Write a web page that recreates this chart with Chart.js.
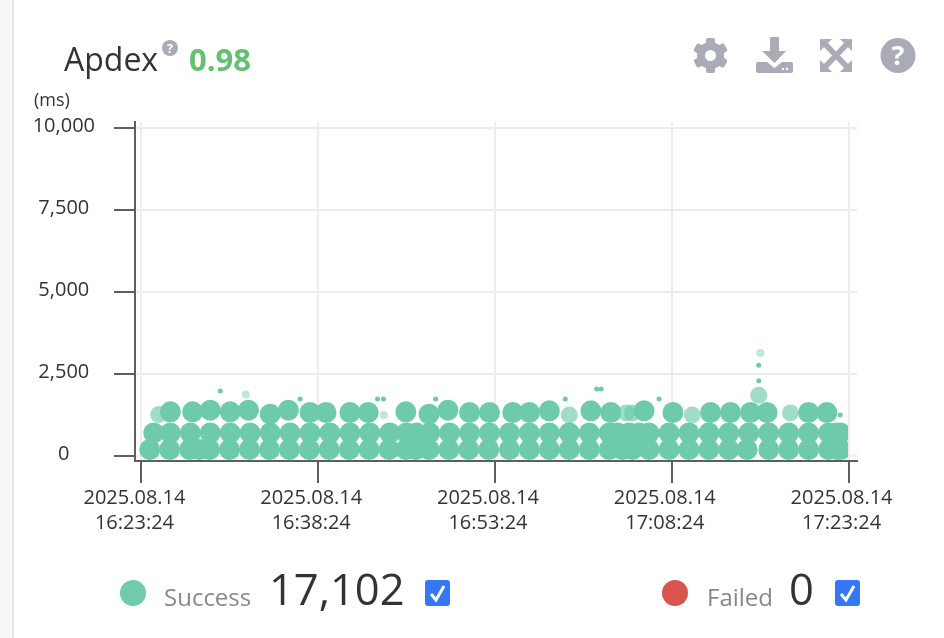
<!DOCTYPE html>
<html>
<head>
<meta charset="utf-8">
<title>Apdex</title>
<script src="https://cdn.jsdelivr.net/npm/chart.js@4/dist/chart.umd.min.js"></script>
<style>
    html, body { margin: 0; padding: 0; background: #fff; }
    body { width: 944px; height: 638px; overflow: hidden; position: relative; font-family: "Open Sans", sans-serif; color: #333; }
    .side { position: absolute; left: 0; top: 0; width: 12px; height: 638px; background: #f7f7f7; border-right: 2px solid #e6e6e6; }
    canvas { position: absolute; left: 0; top: 0; }
    .txt { position: absolute; white-space: nowrap; line-height: 1; }
    svg { position: absolute; overflow: visible; }
    .dot { position: absolute; width: 26px; height: 26px; border-radius: 50%; }
</style>
</head>
<body>
<div class="side"></div>
<canvas id="apdexChart" width="944" height="638"></canvas>

<div class="txt" style="left:64px;top:43px;font-size:32px;">Apdex</div>
<svg style="left:162px;top:40px" width="16" height="16" viewBox="0 0 16 16">
    <circle cx="8" cy="8" r="8" fill="#a9acb6"/>
    <text x="8" y="12.5" text-anchor="middle" font-size="12.5" font-weight="700" font-family="Open Sans" fill="#fff">?</text>
</svg>
<div class="txt" style="left:189px;top:44px;font-size:31px;font-weight:700;color:#63c06f;">0.98</div>
<div class="txt" style="left:34px;top:90px;font-size:18px;">(ms)</div>

<!-- иконки -->
<svg style="left:693px;top:38px" width="35" height="35" viewBox="0 0 35 35">
    <g fill="#a9acb6">
        <rect x="13" y="0" width="9" height="35" rx="2"/>
        <rect x="13" y="0" width="9" height="35" rx="2" transform="rotate(60 17.5 17.5)"/>
        <rect x="13" y="0" width="9" height="35" rx="2" transform="rotate(120 17.5 17.5)"/>
        <circle cx="17.5" cy="17.5" r="13.5"/>
    </g>
    <circle cx="17.5" cy="17.5" r="5.5" fill="#fff"/>
</svg>
<svg style="left:756px;top:37px" width="37" height="36" viewBox="0 0 37 36">
    <path fill="#a9acb6" d="M14 1 a1 1 0 0 1 1-1 h7 a1 1 0 0 1 1 1 V14 h7 L18.5 26 L6 14 h8 Z"/>
    <path fill="#a9acb6" d="M2 25 H11 L18.5 31 L26 25 H35 a2 2 0 0 1 2 2 V34 a2 2 0 0 1 -2 2 H2 a2 2 0 0 1 -2 -2 V27 a2 2 0 0 1 2 -2 Z"/>
    <circle cx="27" cy="32" r="1.2" fill="#fff"/>
    <circle cx="31" cy="32" r="1.2" fill="#fff"/>
</svg>
<svg style="left:820px;top:39px" width="32" height="33" viewBox="0 0 32 33">
    <g fill="#a9acb6">
        <path d="M1 0 H12 L0 12 V1 a1 1 0 0 1 1 -1 Z"/>
        <path d="M31 0 H20 L32 12 V1 a1 1 0 0 0 -1 -1 Z"/>
        <path d="M1 33 H12 L0 21 V32 a1 1 0 0 0 1 1 Z"/>
        <path d="M31 33 H20 L32 21 V32 a1 1 0 0 1 -1 1 Z"/>
    </g>
    <path d="M5 5 L27 28 M27 5 L5 28" stroke="#a9acb6" stroke-width="5.5" fill="none"/>
</svg>
<svg style="left:880px;top:38px" width="36" height="35" viewBox="0 0 36 35">
    <circle cx="18" cy="17.5" r="17.5" fill="#a9acb6"/>
    <text x="18" y="27" text-anchor="middle" font-size="27" font-weight="700" font-family="Open Sans" fill="#fff">?</text>
</svg>

<!-- легенда -->
<div class="dot" style="left:120px;top:580px;background:#6fcbaa;"></div>
<div class="txt" style="left:164px;top:585px;font-size:24px;color:#888;">Success</div>
<div class="txt" style="left:269px;top:567px;font-size:43.5px;">17,102</div>
<svg style="left:425px;top:580px" width="25" height="26" viewBox="0 0 25 26">
    <rect width="25" height="26" rx="3" fill="#3478f6"/>
    <path d="M6 14 L11 20 L19 6" fill="none" stroke="#fff" stroke-width="3"/>
</svg>
<div class="dot" style="left:662px;top:580px;background:#d9534f;"></div>
<div class="txt" style="left:707px;top:585px;font-size:24px;color:#888;">Failed</div>
<div class="txt" style="left:789px;top:567px;font-size:43.5px;">0</div>
<svg style="left:835px;top:580px" width="25" height="26" viewBox="0 0 25 26">
    <rect width="25" height="26" rx="3" fill="#3478f6"/>
    <path d="M6 14 L11 20 L19 6" fill="none" stroke="#fff" stroke-width="3"/>
</svg>

<script>
// Данные: x в минутах от 16:23:24, y в мс
const xTickValues = [0, 15, 30, 45, 60];
const xTickLabels = [
    ['2025.08.14', '16:23:24'],
    ['2025.08.14', '16:38:24'],
    ['2025.08.14', '16:53:24'],
    ['2025.08.14', '17:08:24'],
    ['2025.08.14', '17:23:24']
];
const yTickValues = [0, 2500, 5000, 7500, 10000];

const lowRowX = [0.70, 2.39, 4.09, 4.93, 5.78, 7.47, 9.16, 10.86, 12.55, 14.24, 15.93, 17.63, 19.32, 21.01, 22.43, 23.27, 24.40, 26.09, 27.78, 29.47, 31.23, 32.92, 34.61, 36.30, 38.00, 39.69, 40.81, 41.66, 43.07, 44.77, 46.46, 48.15, 49.84, 51.39, 53.23, 54.92, 56.61, 58.31, 59.01, 59.32];
const midRowX = [1.04, 2.45, 4.15, 5.84, 7.53, 9.22, 10.92, 12.61, 14.30, 15.99, 17.69, 19.38, 21.07, 22.48, 23.33, 24.46, 26.15, 27.84, 29.53, 31.23, 32.92, 34.61, 36.30, 38.00, 39.69, 40.39, 41.38, 42.23, 43.07, 44.77, 46.46, 48.15, 49.84, 51.54, 53.23, 54.92, 56.61, 58.31, 59.01, 59.32];
const topRowX = [2.45, 4.34, 5.84, 7.53, 9.08, 10.92, 12.47, 14.30, 15.66, 17.69, 19.24, 22.43, 24.40, 26.01, 27.84, 29.53, 31.51, 32.92, 34.61, 38.14, 39.83, 42.65, 45.10, 48.29, 49.98, 51.68, 53.09, 56.61, 58.16];
const topRowY = [1337, 1337, 1387, 1337, 1387, 1265, 1387, 1316, 1316, 1316, 1316, 1337, 1265, 1387, 1316, 1316, 1316, 1316, 1367, 1367, 1316, 1367, 1316, 1316, 1316, 1316, 1316, 1316, 1316];
const lowRowLevel = 189;
const midRowLevel = 695;

const fadedX = [1.46, 36.30, 41.15, 41.66, 46.74, 55.07, 52.38];
const fadedY = [1255, 1244, 1305, 1305, 1244, 1305, 1845];
const paleX = [8.86, 20.56, 52.52];
const paleY = [1866, 1244, 3134];
const dotX = [6.69, 13.46, 20.03, 20.54, 24.96, 35.96, 38.62, 39.01, 43.92, 52.38, 52.38, 59.30];
const dotY = [1976, 1732, 1732, 1732, 1732, 1732, 2037, 2037, 1732, 2759, 2281, 1244];

const SUCCESS_COLOR = '#6dcba9';
const GRID_COLOR = '#ededed';
const AXIS_COLOR = '#5f5f5f';

function toPoints(xs, ys) {
    return xs.map((x, i) => ({ x: x, y: Array.isArray(ys) ? ys[i] : ys }));
}

function makeDataset(label, points, color, radius) {
    return {
        label: label,
        data: points,
        backgroundColor: color,
        borderWidth: 0,
        pointRadius: radius,
        clip: { left: 0, top: 0, right: -9, bottom: 0 }
    };
}

new Chart(document.getElementById('apdexChart').getContext('2d'), {
    type: 'scatter',
    data: {
        datasets: [
            makeDataset('Faint', toPoints(paleX, paleY), 'rgba(109,203,169,0.45)', 4),
            makeDataset('Faded', toPoints(fadedX, fadedY), 'rgba(109,203,169,0.65)', 8.5),
            makeDataset('Dots', toPoints(dotX, dotY), SUCCESS_COLOR, 2.5),
            makeDataset('Success top', toPoints(topRowX, topRowY), SUCCESS_COLOR, 10.5),
            makeDataset('Success mid', toPoints(midRowX, midRowLevel), SUCCESS_COLOR, 10.5),
            makeDataset('Success low', toPoints(lowRowX, lowRowLevel), SUCCESS_COLOR, 10.5)
        ]
    },
    options: {
        responsive: false,
        animation: false,
        devicePixelRatio: 1,
        layout: { padding: { left: 0, top: 122, right: 87, bottom: 0 } },
        plugins: { legend: { display: false }, tooltip: { enabled: false } },
        scales: {
            x: {
                type: 'linear',
                min: -0.55,
                max: 60.72,
                afterBuildTicks: axis => { axis.ticks = xTickValues.map(v => ({ value: v })); },
                afterFit: axis => { axis.height = 177; },
                border: { color: AXIS_COLOR, width: 2 },
                grid: { color: GRID_COLOR, lineWidth: 2, tickColor: AXIS_COLOR, tickLength: 22, tickWidth: 2 },
                ticks: {
                    autoSkip: false,
                    maxRotation: 0,
                    padding: 3,
                    labelOffset: -7,
                    color: '#333',
                    font: { family: 'Open Sans', size: 20, lineHeight: 1.25 },
                    callback: (value, index) => xTickLabels[index]
                }
            },
            y: {
                type: 'linear',
                min: -162,
                max: 10174,
                afterBuildTicks: axis => { axis.ticks = yTickValues.map(v => ({ value: v })); },
                afterFit: axis => { axis.width = 135; },
                border: { color: AXIS_COLOR, width: 2 },
                grid: { color: GRID_COLOR, lineWidth: 2, tickColor: AXIS_COLOR, tickLength: 21, tickWidth: 2 },
                ticks: {
                    autoSkip: false,
                    crossAlign: 'center',
                    padding: 19,
                    labelOffset: -1,
                    color: '#333',
                    font: { family: 'Open Sans', size: 20 },
                    callback: value => value.toLocaleString('en-US')
                }
            }
        }
    }
});
</script>
</body>
</html>
